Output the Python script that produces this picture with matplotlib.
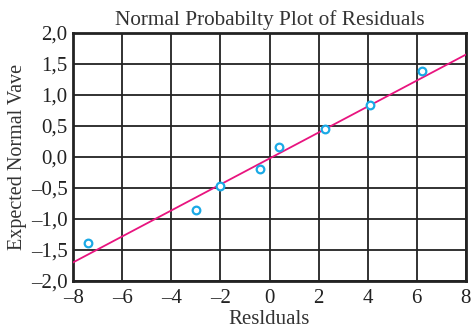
import numpy as np
import matplotlib.pyplot as plt
from matplotlib.ticker import FuncFormatter

# residuals and expected normal values
residuals = [-7.4, -3.0, -2.0, -0.4, 0.4, 2.25, 4.1, 6.2]
normal_vals = [-1.39, -0.85, -0.47, -0.19, 0.16, 0.45, 0.83, 1.39]

# fitted line ends
line_x = [-8, 8]
line_y = [-1.70, 1.65]

xticks = [-8, -6, -4, -2, 0, 2, 4, 6, 8]
yticks = [-2.0, -1.5, -1.0, -0.5, 0.0, 0.5, 1.0, 1.5, 2.0]

plt.rcParams['font.family'] = ['Liberation Serif', 'DejaVu Serif']

fig = plt.figure(figsize=(4.72, 3.29), dpi=100)
ax = fig.add_axes([0.155, 0.146, 0.832, 0.754])

ax.plot(line_x, line_y, color='#e8147f', lw=1.3, zorder=3)
ax.plot(residuals, normal_vals, 'o', mfc='white', mec='#1aa9e6', mew=1.6, ms=5.5, zorder=4)

ax.set_xlim(-8, 8)
ax.set_ylim(-2, 2)
ax.set_xticks(xticks)
ax.set_yticks(yticks)

# en dash for minus, comma decimals
def fmt_x(v, pos):
    return ('\u2013' if v < 0 else '') + '%d' % abs(v)

def fmt_y(v, pos):
    s = ('%.1f' % abs(v)).replace('.', ',')
    return ('\u2013' if v < -1e-9 else '') + s

ax.xaxis.set_major_formatter(FuncFormatter(fmt_x))
ax.yaxis.set_major_formatter(FuncFormatter(fmt_y))
ax.tick_params(length=0, labelsize=15, colors='#222222')
ax.tick_params(axis='x', pad=6)
ax.tick_params(axis='y', pad=4)

ax.grid(True, color='#222222', lw=1.3)
ax.set_axisbelow(True)
for s in ax.spines.values():
    s.set_linewidth(2)
    s.set_color('#222222')

ax.set_title('Normal Probabilty Plot of Residuals', fontsize=15.3, color='#333333', pad=6)
ax.set_xlabel('Reslduals', fontsize=15, color='#333333', labelpad=1)
ax.set_ylabel('Expected Normal Vave', fontsize=14.5, color='#333333', labelpad=3)

fig.savefig('out.png', dpi=100)
